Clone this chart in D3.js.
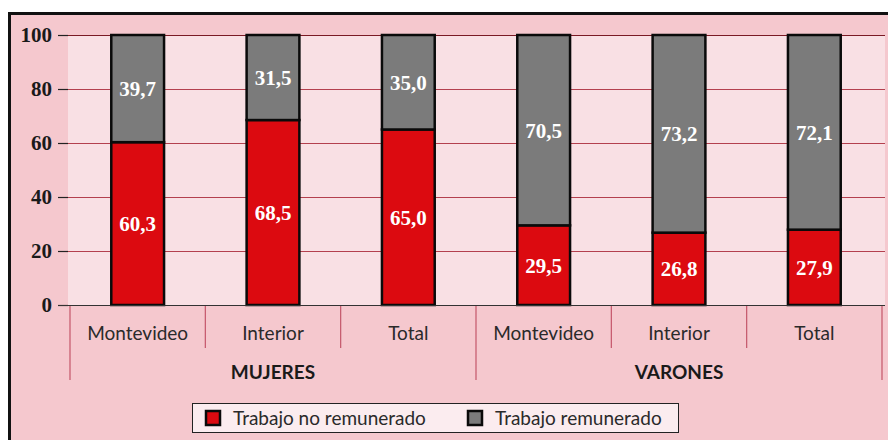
<!DOCTYPE html>
<html>
<head>
<meta charset="utf-8">
<script src="https://cdn.jsdelivr.net/npm/d3@7"></script>
<style>
  body { margin: 0; background: #fff; }
  svg { display: block; }
</style>
</head>
<body>
<svg width="888" height="440"></svg>
<script>
// datos
var categorias = ["Montevideo", "Interior", "Total", "Montevideo", "Interior", "Total"];
var grupos = ["MUJERES", "VARONES"];
var noRemunerado = [60.3, 68.5, 65.0, 29.5, 26.8, 27.9];
var remunerado = [39.7, 31.5, 35.0, 70.5, 73.2, 72.1];
var yTicks = [0, 20, 40, 60, 80, 100];
var series = ["Trabajo no remunerado", "Trabajo remunerado"];

var colores = { rojo: "#dc0a10", gris: "#7b7b7b" };

var svg = d3.select("svg");

// marco exterior
svg.append("rect")
    .attr("x", 9.5).attr("y", 13.5)
    .attr("width", 900).attr("height", 460)
    .attr("fill", "#f5c8ce")
    .attr("stroke", "#111").attr("stroke-width", 3);

var idx = d3.range(categorias.length);

var x = d3.scaleBand()
    .domain(idx)
    .range([70, 882])
    .paddingInner(0.61)
    .paddingOuter(0.305);

var y = d3.scaleLinear()
    .domain([0, 100])
    .range([305, 35]);

// fondo del area de trazado
svg.append("rect")
    .attr("x", 68).attr("y", y(100))
    .attr("width", 885 - 68).attr("height", y(0) - y(100))
    .attr("fill", "#f9e0e4");

// lineas de grilla
svg.append("g")
    .selectAll("line")
    .data(yTicks.filter(d => d > 0))
    .enter()
    .append("line")
    .attr("x1", 68).attr("x2", 885)
    .attr("y1", d => y(d) + 0.5).attr("y2", d => y(d) + 0.5)
    .attr("stroke", d => d === 100 ? "#7a1a24" : "#b4404e")
    .attr("stroke-width", 1);

// eje y
var yAxis = svg.append("g")
    .attr("transform", "translate(68,0)")
    .call(d3.axisLeft(y).tickValues(yTicks).tickSize(10).tickPadding(6));
yAxis.select(".domain").remove();
yAxis.selectAll(".tick line").attr("stroke", "#222").attr("stroke-width", 1.2);
yAxis.selectAll(".tick text")
    .attr("fill", "#1a1a1a")
    .style("font-family", "'Liberation Serif', serif")
    .style("font-weight", "bold")
    .style("font-size", "21px");

// barras apiladas
var datos = idx.map(i => ({
    i: i,
    segs: [
        { y0: 0, y1: noRemunerado[i], v: noRemunerado[i], c: colores.rojo },
        { y0: noRemunerado[i], y1: 100, v: remunerado[i], c: colores.gris }
    ]
}));

var barras = svg.append("g")
    .selectAll("g")
    .data(datos)
    .enter()
    .append("g");

barras.selectAll("rect")
    .data(d => d.segs.map(s => Object.assign({ i: d.i }, s)))
    .enter()
    .append("rect")
    .attr("x", d => x(d.i))
    .attr("width", x.bandwidth())
    .attr("y", d => y(d.y1))
    .attr("height", d => y(d.y0) - y(d.y1))
    .attr("fill", d => d.c)
    .attr("stroke", "#0a0a0a")
    .attr("stroke-width", 2.5);

barras.selectAll("text")
    .data(d => d.segs.map(s => Object.assign({ i: d.i }, s)))
    .enter()
    .append("text")
    .attr("x", d => x(d.i) + x.bandwidth() / 2)
    .attr("y", d => (y(d.y0) + y(d.y1)) / 2)
    .attr("dy", "0.35em")
    .attr("text-anchor", "middle")
    .attr("fill", "#fff")
    .style("font-family", "'Liberation Serif', serif")
    .style("font-weight", "bold")
    .style("font-size", "21px")
    .text(d => d.v.toFixed(1).replace(".", ","));

// linea base
svg.append("line")
    .attr("x1", 58).attr("x2", 885)
    .attr("y1", y(0) + 0.5).attr("y2", y(0) + 0.5)
    .attr("stroke", "#333").attr("stroke-width", 1.2);

// separadores del eje x
var step = x.step();
var bordes = d3.range(categorias.length + 1).map(k => x.range()[0] + k * step);
svg.append("g")
    .selectAll("line")
    .data(bordes)
    .enter()
    .append("line")
    .attr("x1", d => d).attr("x2", d => d)
    .attr("y1", y(0) + 1)
    .attr("y2", (d, k) => k % 3 === 0 ? 380 : 348)
    .attr("stroke", "#c4566a")
    .attr("stroke-width", 1.2);

// etiquetas de categorias
svg.append("g")
    .selectAll("text")
    .data(idx)
    .enter()
    .append("text")
    .attr("x", d => x(d) + x.bandwidth() / 2)
    .attr("y", 340)
    .attr("text-anchor", "middle")
    .attr("fill", "#2a2a2a")
    .style("font-family", "Lato, sans-serif")
    .style("font-size", "19px")
    .text(d => categorias[d]);

// etiquetas de grupo
svg.append("g")
    .selectAll("text")
    .data(grupos)
    .enter()
    .append("text")
    .attr("x", (d, k) => (bordes[k * 3] + bordes[k * 3 + 3]) / 2)
    .attr("y", 379)
    .attr("text-anchor", "middle")
    .attr("fill", "#1a1a1a")
    .style("font-family", "Lato, sans-serif")
    .style("font-weight", "bold")
    .style("font-size", "19px")
    .text(d => d);

// leyenda
var leyenda = svg.append("g");
leyenda.append("rect")
    .attr("x", 192.5).attr("y", 403.5)
    .attr("width", 486).attr("height", 29)
    .attr("fill", "#fbecef")
    .attr("stroke", "#222").attr("stroke-width", 1);

var itemX = [205, 467];
var items = leyenda.selectAll("g.item")
    .data(series)
    .enter()
    .append("g")
    .attr("class", "item")
    .attr("transform", (d, k) => "translate(" + itemX[k] + ",410)");

items.append("rect")
    .attr("x", 1).attr("y", 1)
    .attr("width", 14).attr("height", 14)
    .attr("fill", (d, k) => k === 0 ? colores.rojo : colores.gris)
    .attr("stroke", "#0a0a0a").attr("stroke-width", 2.5);

items.append("text")
    .attr("x", 28).attr("y", 15)
    .attr("fill", "#2a2a2a")
    .style("font-family", "Lato, sans-serif")
    .style("font-size", "19px")
    .text(d => d);
</script>
</body>
</html>
